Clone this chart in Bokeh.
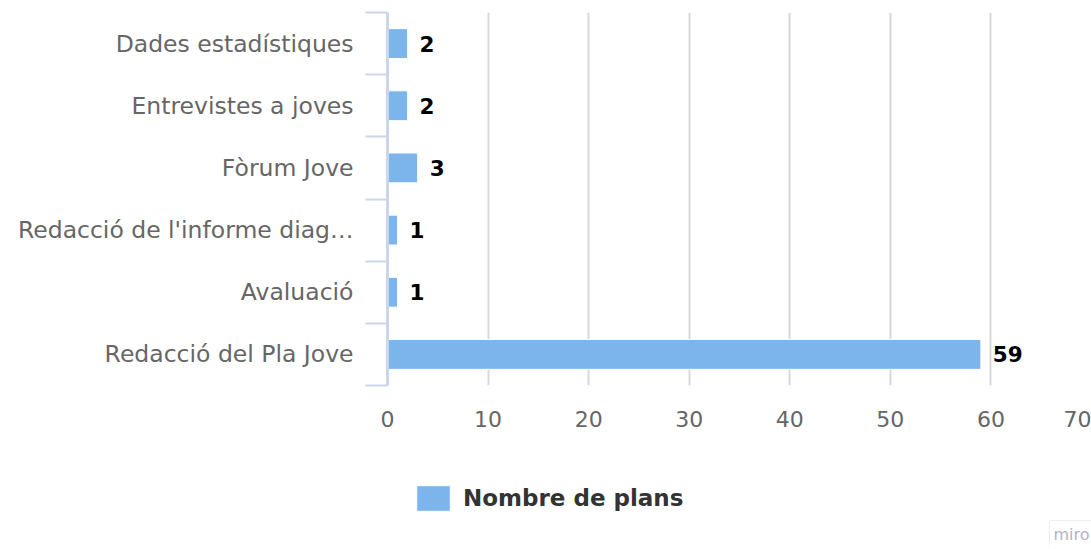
from bokeh.plotting import figure
from bokeh.layouts import column
from bokeh.models import Range1d, FixedTicker, ColumnDataSource, Legend, LegendItem, Label
from bokeh.core.properties import value
from bokeh.embed import file_html
from bokeh.resources import INLINE

categories = ["Dades estadístiques", "Entrevistes a joves", "Fòrum Jove",
              "Redacció de l'informe diag…", "Avaluació", "Redacció del Pla Jove"]
values = [2, 2, 3, 1, 1, 59]
series_name = "Nombre de plans"
x_ticks = [0, 10, 20, 30, 40, 50, 60, 70]
watermark = "miro"

n = len(categories)
ys = [n - i - 0.5 for i in range(n)]
FONT = "DejaVu Sans"
BAR = "#7cb5ec"

src = ColumnDataSource(dict(y=ys, v=values, lbl=[str(v) for v in values]))

p = figure(width=1091, height=445, output_backend="svg", toolbar_location=None,
           x_range=Range1d(0, 70), y_range=Range1d(0, n),
           min_border_left=387, min_border_right=0, min_border_top=12, min_border_bottom=60)
p.outline_line_color = None

p.hbar(y="y", right="v", left=0, height=0.48, source=src, fill_color=BAR,
       line_color="white", line_width=1)
p.text(x="v", y="y", text="lbl", source=src, x_offset=12, text_baseline="middle",
       text_font=value(FONT), text_font_style="bold", text_font_size="21.5px", text_color="black")

# x axis
p.xaxis.ticker = FixedTicker(ticks=x_ticks)
p.xaxis.axis_line_color = None
p.xaxis.major_tick_line_color = None
p.xaxis.minor_tick_line_color = None
p.xaxis.major_label_text_font = FONT
p.xaxis.major_label_text_font_size = "22px"
p.xaxis.major_label_text_color = "#666666"
p.xaxis.major_label_standoff = 19
p.xgrid.ticker = FixedTicker(ticks=x_ticks)
p.xgrid.grid_line_color = "#d8d8d8"
p.xgrid.grid_line_width = 2
p.ygrid.grid_line_color = None

# y axis: labels at centres, tick marks at boundaries
p.yaxis.ticker = FixedTicker(ticks=ys, minor_ticks=list(range(n + 1)))
p.yaxis.major_label_overrides = {y: c for y, c in zip(ys, categories)}
p.yaxis.major_tick_line_color = None
p.yaxis.major_tick_out = 0
p.yaxis.minor_tick_out = 22
p.yaxis.minor_tick_in = 0
p.yaxis.minor_tick_line_color = "#ccd6eb"
p.yaxis.minor_tick_line_width = 2
p.yaxis.axis_line_color = "#ccd6eb"
p.yaxis.axis_line_width = 3
p.yaxis.major_label_text_font = FONT
p.yaxis.major_label_text_font_size = "23.5px"
p.yaxis.major_label_text_color = "#666666"
p.yaxis.major_label_standoff = 12

# legend strip below (its frame is aligned with the main frame, left edge at 387)
q = figure(width=1091, height=100, output_backend="svg", toolbar_location=None,
           x_range=Range1d(0, 1), y_range=Range1d(0, 1),
           x_axis_type=None, y_axis_type=None,
           min_border_left=0, min_border_right=0, min_border_top=0, min_border_bottom=0)
q.outline_line_color = None
q.xgrid.visible = False
q.ygrid.visible = False
# legend proxy: one bar placed outside the visible range so only its legend swatch shows
r = q.hbar(y="y", right="v", left=0, height=0.5,
           source=ColumnDataSource(dict(y=[-5], v=[1])), fill_color=BAR, line_color="white")
lg = Legend(items=[LegendItem(label=series_name, renderers=[r])],
            location=(25, 31), orientation="horizontal", padding=0, margin=0,
            border_line_color=None, background_fill_alpha=0,
            glyph_width=42, glyph_height=32, label_height=32, label_standoff=9,
            label_text_font=FONT, label_text_font_style="bold",
            label_text_font_size="23px", label_text_color="#333333")
q.add_layout(lg, "center")
q.add_layout(Label(x=662, y=-2, x_units="screen", y_units="screen", text=watermark,
                   text_font=FONT, text_font_size="16px", text_color="#b4b4c4",
                   border_line_color="#eeeeee", background_fill_color="white", padding=4))

open("out.html", "w").write(file_html(column(p, q, spacing=0), INLINE))
